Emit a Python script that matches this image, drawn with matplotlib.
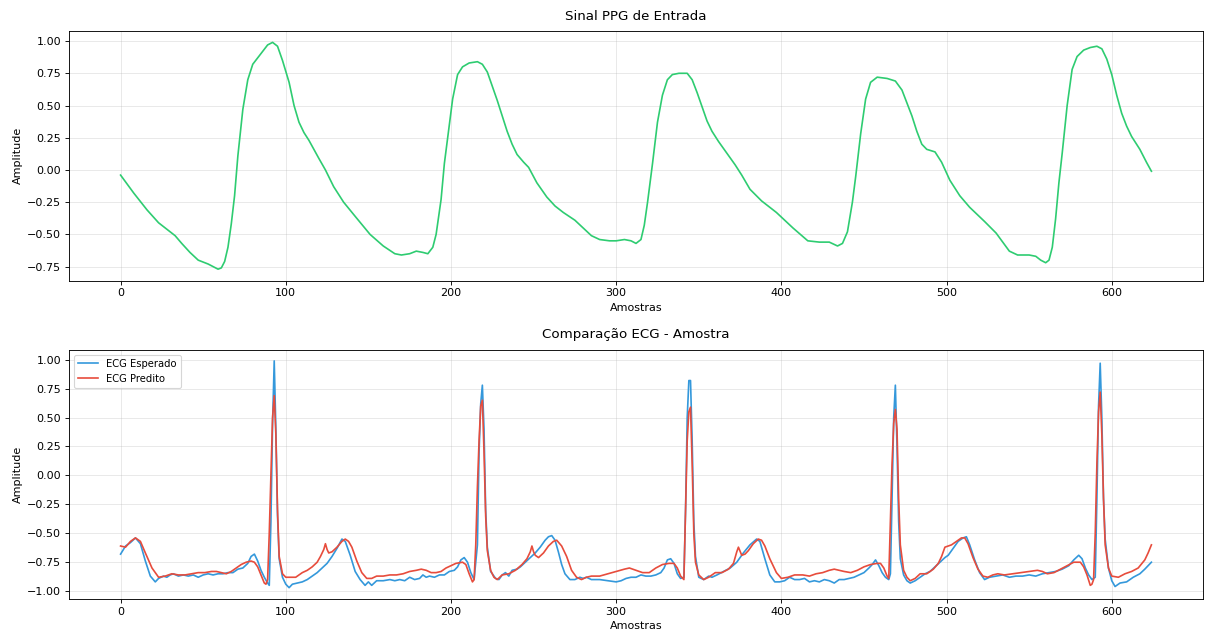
import numpy as np
import matplotlib
matplotlib.use("Agg")
import matplotlib.pyplot as plt

# PPG input signal (sample index, amplitude)
ppg_x = [0, 8, 16, 23, 29, 33, 37, 42, 47, 53, 56, 59, 61, 63, 65, 67, 69, 71, 74, 77,
         80, 83, 86, 89, 92, 95, 98, 102, 105, 108, 111, 114, 117, 120, 124, 129, 135, 142, 151, 159,
         166, 170, 175, 179, 183, 186, 189, 191, 194, 196, 198, 201, 204, 207, 211, 216, 219, 222, 225, 228,
         231, 234, 237, 240, 244, 247, 252, 258, 263, 268, 275, 280, 285, 290, 296, 300, 305, 309, 312, 315,
         317, 319, 322, 325, 328, 331, 334, 338, 343, 346, 349, 352, 355, 358, 362, 367, 372, 376, 381, 388,
         397, 407, 416, 423, 429, 434, 437, 440, 443, 445, 448, 451, 454, 458, 464, 469, 473, 476, 479, 482,
         485, 488, 493, 497, 502, 508, 514, 523, 530, 534, 538, 543, 550, 554, 557, 560, 562, 564, 566, 568,
         570, 573, 576, 579, 583, 587, 591, 594, 597, 600, 603, 606, 609, 612, 617, 621, 624]
ppg_y = [-0.04, -0.18, -0.31, -0.41, -0.47, -0.51, -0.57, -0.64, -0.70, -0.73, -0.75, -0.77, -0.76, -0.71, -0.60, -0.42, -0.20, 0.11, 0.47, 0.70,
         0.82, 0.87, 0.92, 0.97, 0.99, 0.96, 0.85, 0.68, 0.50, 0.37, 0.29, 0.23, 0.16, 0.09, 0.00, -0.13, -0.25, -0.36, -0.50, -0.59,
         -0.65, -0.66, -0.65, -0.63, -0.64, -0.65, -0.60, -0.50, -0.23, 0.05, 0.25, 0.55, 0.74, 0.80, 0.83, 0.84, 0.82, 0.76, 0.65, 0.54,
         0.42, 0.30, 0.20, 0.12, 0.06, 0.02, -0.10, -0.21, -0.28, -0.33, -0.39, -0.45, -0.51, -0.54, -0.55, -0.55, -0.54, -0.55, -0.57, -0.54,
         -0.43, -0.25, 0.05, 0.37, 0.58, 0.70, 0.74, 0.75, 0.75, 0.70, 0.60, 0.49, 0.38, 0.30, 0.22, 0.13, 0.04, -0.04, -0.15, -0.24,
         -0.33, -0.45, -0.55, -0.56, -0.56, -0.59, -0.57, -0.48, -0.25, -0.05, 0.28, 0.55, 0.68, 0.72, 0.71, 0.69, 0.62, 0.52, 0.42, 0.30,
         0.20, 0.16, 0.14, 0.06, -0.08, -0.20, -0.29, -0.40, -0.49, -0.56, -0.63, -0.66, -0.66, -0.67, -0.70, -0.72, -0.70, -0.60, -0.38, -0.10,
         0.13, 0.50, 0.78, 0.88, 0.93, 0.95, 0.96, 0.94, 0.86, 0.74, 0.58, 0.44, 0.34, 0.26, 0.16, 0.06, -0.01]

# expected ECG
ecg_true_x = [0, 3, 6, 9, 12, 15, 18, 21, 23, 26, 28, 30, 32, 35, 38, 41, 44, 47, 50, 53,
              56, 59, 62, 65, 68, 71, 74, 77, 79, 81, 83, 85, 87, 89, 90, 91, 92, 93, 94, 95,
              96, 98, 100, 102, 104, 107, 110, 113, 116, 119, 122, 125, 128, 131, 134, 136, 139, 142, 145, 148,
              150, 152, 155, 159, 163, 166, 169, 172, 175, 178, 181, 183, 185, 187, 190, 193, 196, 199, 202, 204,
              206, 208, 210, 212, 214, 216, 217, 218, 219, 220, 221, 222, 224, 227, 229, 231, 233, 235, 237, 240,
              242, 245, 248, 251, 254, 257, 259, 261, 263, 265, 267, 269, 272, 275, 278, 280, 282, 285, 290, 295,
              300, 303, 306, 309, 312, 315, 318, 321, 324, 327, 329, 331, 333, 335, 337, 339, 341, 342, 343, 344,
              345, 346, 347, 348, 350, 353, 356, 358, 361, 365, 369, 373, 377, 381, 385, 387, 390, 393, 396, 399,
              402, 405, 408, 411, 414, 417, 420, 423, 426, 429, 432, 435, 438, 441, 444, 447, 450, 453, 455, 457,
              459, 461, 463, 465, 466, 467, 468, 469, 470, 471, 472, 474, 476, 478, 481, 484, 487, 490, 493, 496,
              499, 501, 504, 507, 510, 512, 514, 517, 520, 523, 526, 530, 534, 538, 542, 546, 550, 554, 558, 562,
              566, 570, 574, 577, 580, 582, 584, 586, 588, 590, 591, 592, 593, 594, 595, 596, 598, 600, 602, 605,
              609, 613, 617, 620, 624]
ecg_true_y = [-0.68, -0.61, -0.58, -0.54, -0.59, -0.74, -0.87, -0.92, -0.89, -0.87, -0.88, -0.86, -0.85, -0.87, -0.86, -0.87, -0.86, -0.88, -0.86, -0.85,
              -0.86, -0.85, -0.85, -0.84, -0.84, -0.81, -0.80, -0.76, -0.70, -0.68, -0.74, -0.82, -0.88, -0.93, -0.95, -0.40, 0.45, 0.99, 0.40, -0.35,
              -0.72, -0.88, -0.94, -0.97, -0.94, -0.93, -0.92, -0.90, -0.87, -0.84, -0.80, -0.76, -0.70, -0.63, -0.55, -0.57, -0.69, -0.83, -0.90, -0.95,
              -0.92, -0.95, -0.91, -0.91, -0.90, -0.91, -0.90, -0.91, -0.88, -0.90, -0.89, -0.86, -0.88, -0.87, -0.88, -0.86, -0.86, -0.83, -0.82, -0.79,
              -0.73, -0.71, -0.75, -0.84, -0.90, -0.60, 0.20, 0.62, 0.78, 0.40, -0.30, -0.62, -0.83, -0.89, -0.90, -0.86, -0.84, -0.87, -0.82, -0.81,
              -0.79, -0.75, -0.71, -0.67, -0.62, -0.56, -0.53, -0.52, -0.56, -0.66, -0.77, -0.85, -0.90, -0.90, -0.88, -0.89, -0.88, -0.90, -0.90, -0.91,
              -0.92, -0.91, -0.89, -0.88, -0.88, -0.86, -0.87, -0.87, -0.86, -0.84, -0.80, -0.73, -0.72, -0.76, -0.85, -0.89, -0.88, -0.30, 0.50, 0.82,
              0.82, 0.30, -0.40, -0.70, -0.88, -0.90, -0.87, -0.88, -0.86, -0.83, -0.80, -0.75, -0.67, -0.60, -0.55, -0.57, -0.72, -0.86, -0.92, -0.92,
              -0.91, -0.88, -0.90, -0.90, -0.89, -0.92, -0.91, -0.92, -0.90, -0.91, -0.93, -0.90, -0.90, -0.89, -0.88, -0.86, -0.84, -0.80, -0.77, -0.73,
              -0.78, -0.84, -0.88, -0.90, -0.85, -0.20, 0.50, 0.78, 0.25, -0.40, -0.72, -0.86, -0.91, -0.93, -0.91, -0.88, -0.85, -0.83, -0.79, -0.75,
              -0.71, -0.69, -0.63, -0.57, -0.54, -0.53, -0.60, -0.73, -0.84, -0.90, -0.88, -0.87, -0.86, -0.88, -0.87, -0.87, -0.86, -0.87, -0.85, -0.84,
              -0.83, -0.81, -0.78, -0.73, -0.69, -0.72, -0.80, -0.86, -0.90, -0.88, -0.20, 0.60, 0.97, 0.50, -0.20, -0.55, -0.80, -0.91, -0.96, -0.93,
              -0.92, -0.88, -0.85, -0.81, -0.75]

# predicted ECG
ecg_pred_x = [0, 3, 6, 9, 12, 15, 19, 23, 27, 31, 35, 39, 43, 47, 51, 55, 58, 61, 64, 67,
              70, 73, 76, 79, 81, 83, 85, 87, 88, 89, 90, 91, 92, 93, 94, 95, 96, 98, 100, 103,
              106, 108, 110, 113, 116, 119, 121, 123, 124, 125, 126, 128, 131, 134, 136, 138, 140, 143, 146, 149,
              152, 155, 159, 163, 167, 171, 175, 179, 182, 185, 188, 191, 194, 197, 200, 203, 207, 209, 211, 213,
              214, 215, 216, 217, 218, 219, 220, 221, 222, 224, 226, 228, 231, 235, 239, 243, 246, 248, 249, 250,
              251, 253, 256, 259, 262, 264, 267, 270, 273, 276, 279, 282, 285, 290, 295, 300, 305, 308, 312, 316,
              320, 324, 328, 332, 335, 337, 339, 341, 342, 343, 344, 345, 346, 347, 348, 350, 353, 356, 360, 364,
              368, 371, 373, 374, 376, 378, 380, 383, 386, 388, 390, 393, 397, 400, 404, 408, 413, 417, 421, 425,
              429, 432, 435, 438, 442, 446, 450, 454, 458, 460, 462, 464, 465, 466, 467, 468, 469, 470, 471, 472,
              474, 476, 478, 481, 484, 488, 492, 495, 497, 499, 501, 503, 506, 509, 511, 513, 516, 519, 522, 525,
              528, 531, 535, 540, 545, 550, 555, 558, 561, 565, 569, 573, 577, 581, 583, 585, 587, 588, 589, 590,
              591, 592, 593, 594, 595, 596, 598, 600, 604, 608, 612, 616, 620, 622, 624]
ecg_pred_y = [-0.61, -0.62, -0.57, -0.54, -0.57, -0.67, -0.80, -0.88, -0.87, -0.85, -0.86, -0.86, -0.85, -0.84, -0.84, -0.83, -0.83, -0.84, -0.85, -0.83,
              -0.80, -0.77, -0.75, -0.74, -0.75, -0.79, -0.86, -0.93, -0.94, -0.90, -0.50, 0.00, 0.50, 0.69, 0.35, -0.30, -0.70, -0.85, -0.88, -0.88,
              -0.88, -0.86, -0.84, -0.82, -0.79, -0.75, -0.70, -0.64, -0.59, -0.64, -0.67, -0.66, -0.62, -0.57, -0.55, -0.57, -0.62, -0.74, -0.84, -0.89,
              -0.89, -0.87, -0.87, -0.86, -0.86, -0.85, -0.83, -0.82, -0.81, -0.82, -0.84, -0.84, -0.83, -0.80, -0.78, -0.76, -0.75, -0.77, -0.85, -0.92,
              -0.90, -0.60, -0.10, 0.30, 0.60, 0.65, 0.20, -0.35, -0.65, -0.82, -0.88, -0.90, -0.86, -0.85, -0.82, -0.77, -0.72, -0.66, -0.61, -0.66,
              -0.69, -0.71, -0.67, -0.61, -0.57, -0.56, -0.61, -0.70, -0.82, -0.88, -0.90, -0.88, -0.87, -0.87, -0.85, -0.83, -0.81, -0.80, -0.82, -0.84,
              -0.84, -0.80, -0.77, -0.76, -0.76, -0.80, -0.87, -0.90, -0.30, 0.30, 0.55, 0.59, 0.10, -0.50, -0.75, -0.86, -0.90, -0.88, -0.84, -0.84,
              -0.81, -0.76, -0.66, -0.62, -0.69, -0.68, -0.65, -0.59, -0.55, -0.56, -0.61, -0.72, -0.84, -0.89, -0.88, -0.86, -0.86, -0.87, -0.85, -0.84,
              -0.82, -0.81, -0.82, -0.83, -0.84, -0.82, -0.79, -0.77, -0.76, -0.76, -0.80, -0.87, -0.89, -0.40, 0.10, 0.45, 0.57, 0.40, -0.20, -0.60,
              -0.82, -0.88, -0.91, -0.89, -0.85, -0.85, -0.81, -0.76, -0.70, -0.62, -0.61, -0.60, -0.57, -0.54, -0.54, -0.59, -0.71, -0.81, -0.87, -0.88,
              -0.86, -0.85, -0.86, -0.85, -0.84, -0.83, -0.82, -0.83, -0.85, -0.84, -0.81, -0.78, -0.75, -0.75, -0.79, -0.86, -0.95, -0.94, -0.90, -0.50,
              0.10, 0.55, 0.72, 0.35, -0.20, -0.60, -0.80, -0.87, -0.88, -0.85, -0.83, -0.80, -0.73, -0.67, -0.60]

fig, (ax1, ax2) = plt.subplots(2, 1, figsize=(1205/80, 632/80), dpi=80)
fig.subplots_adjust(left=0.0573, right=0.9983, top=0.9509, bottom=0.0522, hspace=0.2766)

# top: input PPG
ax1.plot(ppg_x, ppg_y, color='#2ecc71', linewidth=1.5)
ax1.set_title('Sinal PPG de Entrada', fontsize=12, pad=10)
ax1.set_xlabel('Amostras')
ax1.set_ylabel('Amplitude')
ax1.grid(True, alpha=0.3)

# bottom: expected vs predicted ECG
ax2.plot(ecg_true_x, ecg_true_y, color='#3498db', linewidth=1.5, label='ECG Esperado')
ax2.plot(ecg_pred_x, ecg_pred_y, color='#e74c3c', linewidth=1.5, label='ECG Predito')
ax2.set_title('Comparação ECG - Amostra', fontsize=12, pad=10)
ax2.set_xlabel('Amostras')
ax2.set_ylabel('Amplitude')
ax2.legend(loc='upper left', fontsize=9)
ax2.grid(True, alpha=0.3)

fig.savefig('out.png', dpi=80)
